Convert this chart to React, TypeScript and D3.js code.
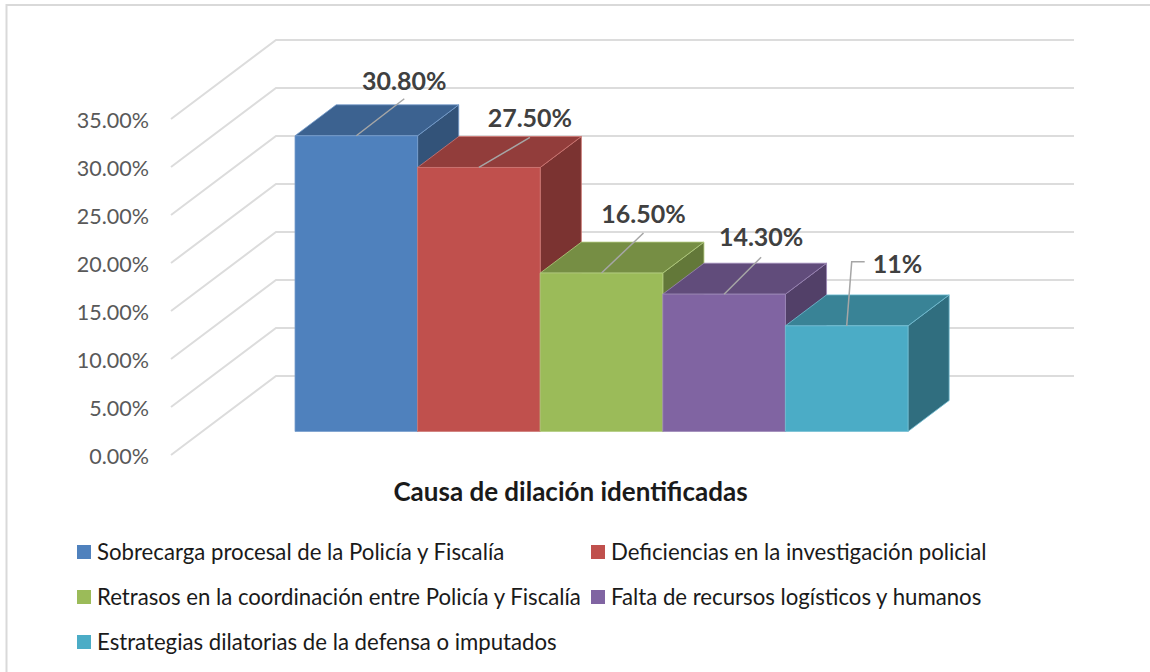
import * as d3 from 'd3'

const categories = [
  'Sobrecarga procesal de la Policía y Fiscalía',
  'Deficiencias en la investigación policial',
  'Retrasos en la coordinación entre Policía y Fiscalía',
  'Falta de recursos logísticos y humanos',
  'Estrategias dilatorias de la defensa o imputados',
]
const values = [30.8, 27.5, 16.5, 14.3, 11]
const valueLabels = ['30.80%', '27.50%', '16.50%', '14.30%', '11%']
const colors = ['#4F81BD', '#C0504D', '#9BBB59', '#8064A2', '#4BACC6']
const ticks = [0, 5, 10, 15, 20, 25, 30, 35]

// leader end and text position, relative to the middle of the bar's front top edge
const leaders = [
  { dx: 48, dy: -37, tx: 48, ty: -46 },
  { dx: 51, dy: -30, tx: 51, ty: -40 },
  { dx: 42, dy: -40, tx: 42, ty: -50 },
  { dx: 37, dy: -37, tx: 37, ty: -48 },
]
const elbowLabel = { dx: 5, dy: -64, ex: 18, tx: 26, ty: -53 }

// legend rows: [column, row] per category
const legendCols = [77, 591]
const legendRows = [552, 597, 642]
const legendSlots = [[0, 0], [1, 0], [0, 1], [1, 1], [0, 2]]

const W = 1150
const H = 672
const font = 'Lato, Carlito, sans-serif'

// 3d projection: front plane of the wall lines, depth goes up and to the right
const yScale = d3.scaleLinear().domain([0, 35]).range([455, 119])
const xWall = d3.scaleLinear().domain([0, 1]).range([171, 276])
const xBars = d3.scaleBand<number>().domain(d3.range(values.length)).range([295, 908])
const depthX = d3.scaleLinear().domain([0, 1]).range([0, 105])
const depthY = d3.scaleLinear().domain([0, 1]).range([0, -79])
const barFront = 0.298
const barBack = 0.69
const wallRight = 1074

const shade = (c: string, k: number) => {
  const { r, g, b } = d3.rgb(c)
  return d3.rgb(r * k, g * k, b * k).formatHex()
}
const tint = (c: string) => d3.interpolateRgb(c, '#fff')(0.22)

export default function App() {
  const line = d3.line()
  const dFrontY = depthY(barFront)
  const bw = xBars.bandwidth()
  const dx = depthX(barBack - barFront)
  const dy = depthY(barBack - barFront)

  return (
    <svg
      width={W}
      height={H}
      style={{ position: 'absolute', left: 0, top: 0, display: 'block', background: '#fff' }}
      fontFamily={font}
    >
      <path d={`M${W},5H6.5V${H}`} fill="none" stroke="#d9d9d9" strokeWidth={2} />

      {/* wall lines */}
      {ticks.map((t) => {
        const y = yScale(t)
        return (
          <path
            key={t}
            d={line([
              [xWall(0), y],
              [xWall(1), y + depthY(1)],
              [wallRight, y + depthY(1)],
            ]) as string}
            fill="none"
            stroke="#dcdcdc"
            strokeWidth={2}
          />
        )
      })}

      {ticks.map((t) => (
        <text key={t} x={149} y={yScale(t) + 1.5} dy="0.35em" textAnchor="end" fontSize={21.5} fill="#595959">
          {t.toFixed(2)}%
        </text>
      ))}

      {/* bars, left to right so the lower one sits over the side of the previous */}
      {values.map((v, i) => {
        const x0 = xBars(i) as number
        const x1 = x0 + bw
        const yBottom = yScale(0) + dFrontY
        const yTop = yScale(v) + dFrontY
        const edge = { stroke: tint(colors[i]), strokeWidth: 0.8, strokeLinejoin: 'round' as const }
        return (
          <g key={categories[i]}>
            <path
              d={`${line([[x1, yTop], [x1 + dx, yTop + dy], [x1 + dx, yBottom + dy], [x1, yBottom]])}Z`}
              fill={shade(colors[i], 0.64)}
              {...edge}
            />
            <path
              d={`${line([[x0, yTop], [x0 + dx, yTop + dy], [x1 + dx, yTop + dy], [x1, yTop]])}Z`}
              fill={shade(colors[i], 0.76)}
              {...edge}
            />
            <rect x={x0} y={yTop} width={bw} height={yBottom - yTop} fill={colors[i]} {...edge} />
          </g>
        )
      })}

      {/* leaders and value labels */}
      {values.map((v, i) => {
        const cx = (xBars(i) as number) + bw / 2
        const top = yScale(v) + dFrontY
        const l = leaders[i]
        if (l) {
          return (
            <g key={i}>
              <path d={line([[cx, top], [cx + l.dx, top + l.dy]]) as string} stroke="#a6a6a6" strokeWidth={1.5} fill="none" />
              <text x={cx + l.tx} y={top + l.ty} textAnchor="middle" fontSize={25} fontWeight={700} fill="#404040">
                {valueLabels[i]}
              </text>
            </g>
          )
        }
        return (
          <g key={i}>
            <path
              d={line([[cx, top], [cx + elbowLabel.dx, top + elbowLabel.dy], [cx + elbowLabel.ex, top + elbowLabel.dy]]) as string}
              stroke="#a6a6a6"
              strokeWidth={1.5}
              fill="none"
            />
            <text x={cx + elbowLabel.tx} y={top + elbowLabel.ty} fontSize={25} fontWeight={700} fill="#404040">
              {valueLabels[i]}
            </text>
          </g>
        )
      })}

      <text x={570.5} y={501} textAnchor="middle" fontSize={26} fontWeight={700} fill="#1a1a1a">
        Causa de dilación identificadas
      </text>

      {categories.map((c, i) => {
        const [col, row] = legendSlots[i]
        const x = legendCols[col]
        const y = legendRows[row]
        return (
          <g key={c}>
            <rect x={x} y={y - 7} width={14} height={14} fill={colors[i]} />
            <text x={x + 20} y={y} dy="0.35em" fontSize={22.2} fill="#1a1a1a">
              {c}
            </text>
          </g>
        )
      })}
    </svg>
  )
}
